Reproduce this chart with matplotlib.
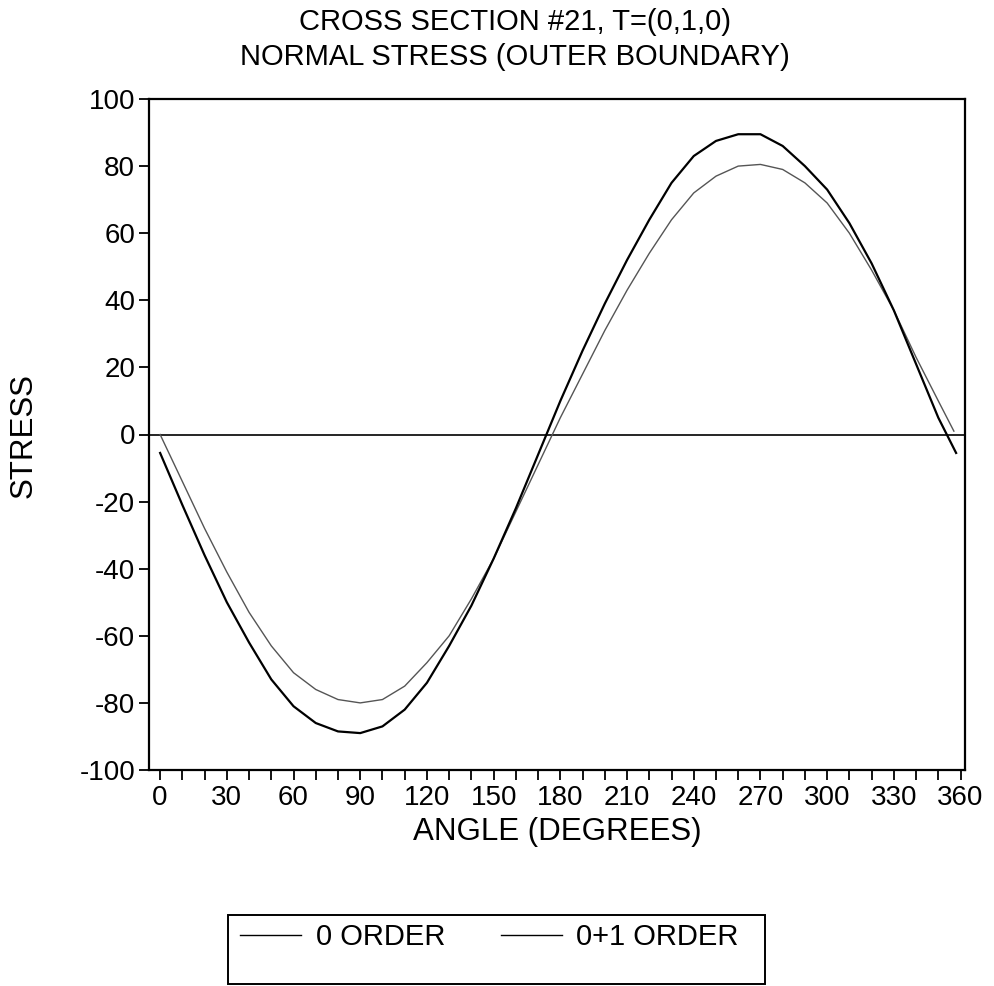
import matplotlib
matplotlib.use("Agg")
import matplotlib.pyplot as plt
from matplotlib.patches import Rectangle

plt.rcParams['font.family'] = ['Liberation Sans', 'DejaVu Sans']
plt.rcParams['axes.unicode_minus'] = False

# Data
angle_0 = [0, 10, 20, 30, 40, 50, 60, 70, 80, 90, 100, 110, 120, 130, 140, 150,
           160, 170, 180, 190, 200, 210, 220, 230, 240, 250, 260, 270, 280, 290,
           300, 310, 320, 330, 340, 350, 357]
stress_0 = [0, -14, -28, -41, -53, -63, -71, -76, -79, -80, -79, -75, -68, -60, -49, -37,
            -23, -9, 5, 18, 31, 43, 54, 64, 72, 77, 80, 80.5, 79, 75,
            69, 60, 49, 37, 23, 10, 1]

angle_01 = [0, 10, 20, 30, 40, 50, 60, 70, 80, 90, 100, 110, 120, 130, 140, 150,
            160, 170, 180, 190, 200, 210, 220, 230, 240, 250, 260, 270, 280, 290,
            300, 310, 320, 330, 340, 350, 358]
stress_01 = [-5.5, -21, -36, -50, -62, -73, -81, -86, -88.5, -89, -87, -82, -74, -63, -51, -37,
             -22, -6, 10, 25, 39, 52, 64, 75, 83, 87.5, 89.5, 89.5, 86, 80,
             73, 63, 51, 37, 21, 5, -5.5]

labels = ['0 ORDER', '0+1 ORDER']
title_lines = ['CROSS SECTION #21, T=(0,1,0)', 'NORMAL STRESS (OUTER BOUNDARY)']
x_ticks = list(range(0, 361, 10))
x_ticklabels = [str(v) if v % 30 == 0 else '' for v in x_ticks]
y_ticks = list(range(-100, 101, 20))

W, H = 994, 986
fig = plt.figure(figsize=(W / 100, H / 100), dpi=100)
ax = fig.add_axes([149 / W, 1 - 770 / H, (965 - 149) / W, (770 - 99) / H])

ax.axhline(0, color='black', lw=1.2, zorder=1)
l0, = ax.plot(angle_0, stress_0, color='#555555', lw=1.0, zorder=2)
l1, = ax.plot(angle_01, stress_01, color='black', lw=1.6, zorder=3)

ax.set_xlim(-5, 362)
ax.set_ylim(-100, 100)
ax.set_xticks(x_ticks)
ax.set_xticklabels(x_ticklabels)
ax.set_yticks(y_ticks)
ax.tick_params(axis='both', direction='out', length=7, width=1.3, labelsize=20,
               colors='black')
ax.tick_params(axis='x', pad=4)
ax.tick_params(axis='y', pad=3)
for s in ax.spines.values():
    s.set_linewidth(1.6)

ax.set_xlabel('ANGLE (DEGREES)', fontsize=22.5, labelpad=4)
fig.text(24 / W, 1 - 436 / H, 'STRESS', rotation=90, ha='center', va='center',
         fontsize=22.5)

fig.text(515 / W, 1 - 22 / H, title_lines[0], ha='center', va='center', fontsize=21)
fig.text(515 / W, 1 - 57 / H, title_lines[1], ha='center', va='center', fontsize=21)

# Legend box
fig.patches.append(Rectangle((228 / W, 1 - 984 / H), (765 - 228) / W, (984 - 915) / H,
                             transform=fig.transFigure, fill=False, lw=1.4,
                             edgecolor='black'))
leg = fig.legend([l0, l1], labels, loc='center left',
                 bbox_to_anchor=(240 / W, 1 - 937 / H), ncol=2, frameon=False,
                 fontsize=21, handlelength=2.1, handletextpad=0.5, columnspacing=1.9,
                 borderaxespad=0, borderpad=0)
for h in leg.legend_handles:
    h.set_color('black')
    h.set_linewidth(1.0)

fig.savefig('out.png', dpi=100)
